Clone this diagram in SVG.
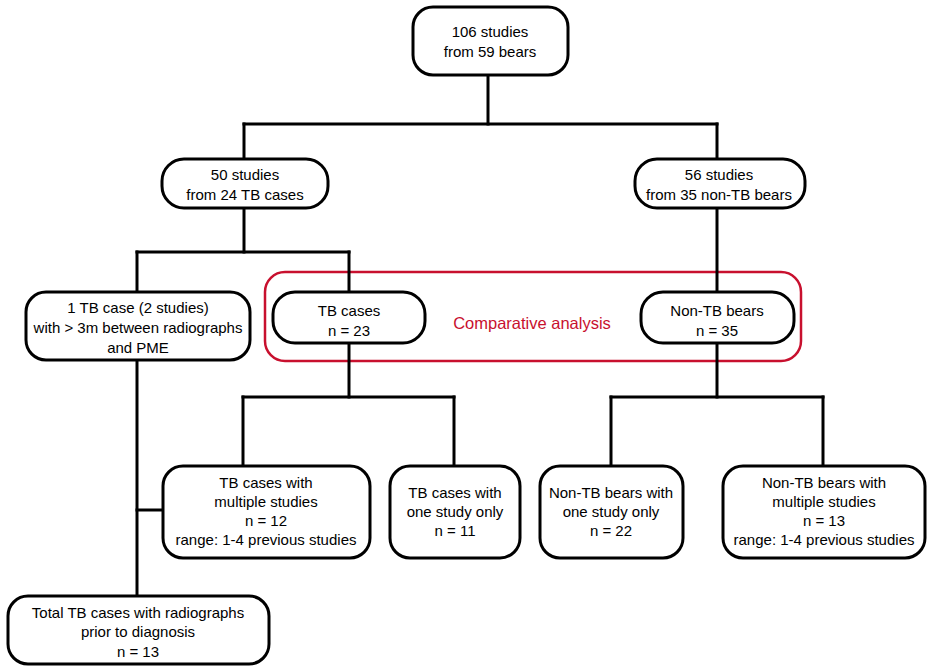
<svg xmlns="http://www.w3.org/2000/svg" width="935" height="672" viewBox="0 0 935 672">
<style>
.box{fill:#fff;stroke:#000;stroke-width:3}
.con line{stroke:#000;stroke-width:3;stroke-linecap:square}
text{font-family:"Liberation Sans",Arial,sans-serif;font-size:15px;fill:#000;text-anchor:middle}
.red{fill:none;stroke:#c8102e;stroke-width:2.5}
.redt{fill:#c8102e;font-size:16.5px}
</style>
<rect width="935" height="672" fill="#fff"/>
<g id="comparative">
<rect class="red" x="265" y="272" width="536" height="89" rx="20"/>
</g>
<g class="con" id="connectors">
<line x1="488" y1="75" x2="488" y2="124"/>
<line x1="244" y1="124" x2="717" y2="124"/>
<line x1="244" y1="124" x2="244" y2="159"/>
<line x1="717" y1="124" x2="717" y2="159"/>
<line x1="244" y1="208" x2="244" y2="252"/>
<line x1="137" y1="252" x2="349" y2="252"/>
<line x1="137" y1="252" x2="137" y2="292"/>
<line x1="349" y1="252" x2="349" y2="292"/>
<line x1="717" y1="208" x2="717" y2="292"/>
<line x1="349" y1="343" x2="349" y2="397"/>
<line x1="243" y1="397" x2="454" y2="397"/>
<line x1="243" y1="397" x2="243" y2="466"/>
<line x1="454" y1="397" x2="454" y2="466"/>
<line x1="717" y1="343" x2="717" y2="397"/>
<line x1="611" y1="397" x2="823" y2="397"/>
<line x1="611" y1="397" x2="611" y2="466"/>
<line x1="823" y1="397" x2="823" y2="466"/>
<line x1="137" y1="360" x2="137" y2="596"/>
<line x1="137" y1="510" x2="163" y2="510"/>
</g>
<g id="n_top">
<rect class="box" x="413" y="7" width="155" height="68" rx="20"/>
<text x="490" y="37">106 studies</text>
<text x="490" y="57">from 59 bears</text>
</g>
<g id="n_tb50">
<rect class="box" x="162" y="159" width="166" height="49" rx="22"/>
<text x="245" y="180">50 studies</text>
<text x="245" y="200">from 24 TB cases</text>
</g>
<g id="n_non56">
<rect class="box" x="635" y="159" width="170" height="49" rx="22"/>
<text x="719" y="180">56 studies</text>
<text x="719" y="200">from 35 non-TB bears</text>
</g>
<g id="n_1tb">
<rect class="box" x="26" y="292" width="224" height="68" rx="20"/>
<text x="138" y="313">1 TB case (2 studies)</text>
<text x="138" y="333">with &gt; 3m between radiographs</text>
<text x="138" y="353">and PME</text>
</g>
<g id="n_tb23">
<rect class="box" x="273" y="292" width="152" height="51" rx="22"/>
<text x="349" y="316">TB cases</text>
<text x="349" y="336">n = 23</text>
</g>
<text class="redt" x="532" y="329">Comparative analysis</text>
<g id="n_non35">
<rect class="box" x="641" y="292" width="153" height="51" rx="22"/>
<text x="717" y="316">Non-TB bears</text>
<text x="717" y="336">n = 35</text>
</g>
<g id="n_tbmulti">
<rect class="box" x="163" y="466" width="207" height="92" rx="20"/>
<text x="266" y="488">TB cases with</text>
<text x="266" y="507">multiple studies</text>
<text x="266" y="526">n = 12</text>
<text x="266" y="545">range: 1-4 previous studies</text>
</g>
<g id="n_tbone">
<rect class="box" x="390" y="466" width="130" height="92" rx="20"/>
<text x="455" y="498">TB cases with</text>
<text x="455" y="517">one study only</text>
<text x="455" y="536">n = 11</text>
</g>
<g id="n_nonone">
<rect class="box" x="540" y="466" width="143" height="92" rx="20"/>
<text x="611" y="498">Non-TB bears with</text>
<text x="611" y="517">one study only</text>
<text x="611" y="536">n = 22</text>
</g>
<g id="n_nonmulti">
<rect class="box" x="723" y="466" width="202" height="92" rx="20"/>
<text x="824" y="488">Non-TB bears with</text>
<text x="824" y="507">multiple studies</text>
<text x="824" y="526">n = 13</text>
<text x="824" y="545">range: 1-4 previous studies</text>
</g>
<g id="n_total">
<rect class="box" x="8" y="596" width="261" height="68" rx="20"/>
<text x="138" y="618">Total TB cases with radiographs</text>
<text x="138" y="637">prior to diagnosis</text>
<text x="138" y="657">n = 13</text>
</g>
</svg>
